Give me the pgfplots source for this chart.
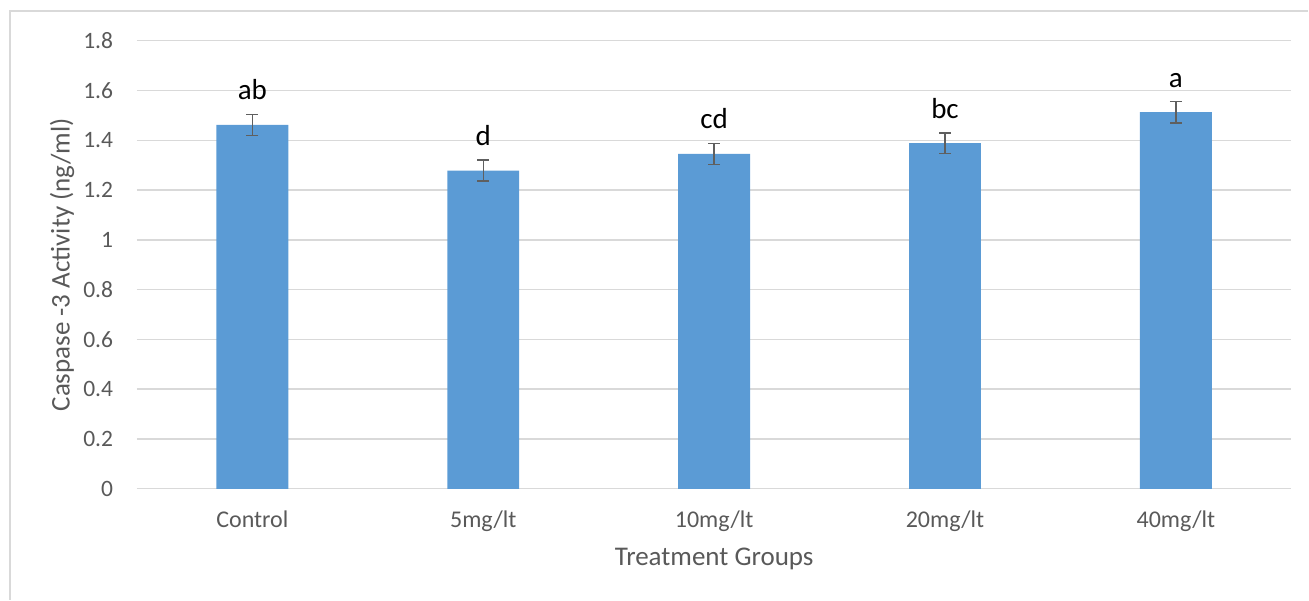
\documentclass[border=0pt]{standalone}
\usepackage{fontspec}
\setmainfont{Carlito}
\usepackage{pgfplots}
\pgfplotsset{compat=1.18}
\usepackage{pgfplotstable}
\definecolor{barblue}{HTML}{5B9BD5}
\definecolor{txtgray}{HTML}{595959}
\definecolor{gridgray}{HTML}{D9D9D9}
\definecolor{errgray}{HTML}{5F5F5F}
\pgfplotstableread{
x y err label
0 1.462 0.042 ab
1 1.278 0.042 d
2 1.345 0.042 cd
3 1.388 0.042 bc
4 1.513 0.043 a
}\datatable
\begin{document}
\begin{tikzpicture}
\begin{axis}[name=ax, scale only axis, width=1155pt, height=448.3pt,
  xmin=-0.5, xmax=4.5, ymin=0, ymax=1.8,
  ybar, bar width=72pt,
  ytick={0,0.2,0.4,0.6,0.8,1,1.2,1.4,1.6,1.8},
  xtick={0,1,2,3,4},
  xticklabels={Control,5mg/lt,10mg/lt,20mg/lt,40mg/lt},
  axis x line*=bottom, axis y line*=left,
  y axis line style={draw=none},
  x axis line style={gridgray, line width=1.4pt},
  major tick length=0pt,
  ymajorgrids, grid style={gridgray, line width=1.4pt},
  /pgf/number format/assume math mode=true,
  yticklabel style={text=txtgray, font=\fontsize{23.5}{27}\selectfont, anchor=east, inner sep=0pt, xshift=-23.7pt},
  xticklabel style={text=txtgray, font=\fontsize{24}{28}\selectfont, anchor=base, inner sep=0pt, yshift=-38.7pt},
  xlabel={Treatment Groups},
  ylabel={Caspase -3 Activity (ng/ml)},
  label style={text=txtgray, font=\fontsize{27}{31}\selectfont},
  xlabel style={at={(axis description cs:0.5,-0.156)}, anchor=center},
  ylabel style={at={(axis description cs:-0.0649,0.5)}, anchor=center, rotate=0},
  clip=false,
]
\addplot[fill=barblue, draw=none,
  nodes near coords, point meta=explicit symbolic,
  every node near coord/.style={anchor=base, yshift=25pt, inner sep=0pt, text=black, font=\fontsize{29}{33}\selectfont},
  error bars/.cd, y dir=both, y explicit,
  error bar style={errgray, line width=1.5pt},
  error mark options={rotate=90, errgray, mark size=6pt, line width=1.5pt}]
  table[x=x, y=y, y error=err, meta=label] {\datatable};
\end{axis}
\draw[gridgray, line width=1.4pt] ([xshift=-127pt, yshift=-111pt]ax.south west) -- ([xshift=-127pt, yshift=29.7pt]ax.north west) -- ([xshift=17pt, yshift=29.7pt]ax.north east);
\path ([xshift=-137pt, yshift=-111pt]ax.south west) rectangle ([xshift=17pt, yshift=40.7pt]ax.north east);
\end{tikzpicture}
\end{document}
